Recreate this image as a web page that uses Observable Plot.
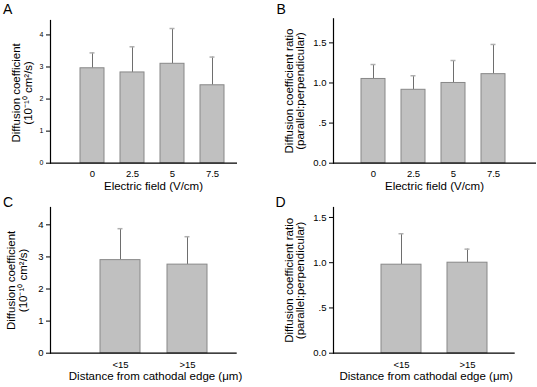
<!DOCTYPE html>
<html>
<head>
<meta charset="utf-8">
<script src="https://cdn.jsdelivr.net/npm/d3@7"></script>
<script src="https://cdn.jsdelivr.net/npm/@observablehq/plot@0.6"></script>
<style>
  html, body { margin: 0; padding: 0; background: #fff; }
  #wrap { position: relative; width: 537px; height: 387px; overflow: hidden; font-family: "Liberation Sans", Arial, sans-serif; }
  #wrap svg { position: absolute; font-family: "Liberation Sans", Arial, sans-serif; }
</style>
</head>
<body>
<div id="wrap"></div>
<script>
// ---- Data ----
const fieldCategories = ["0", "2.5", "5", "7.5"];
const coefByField = [2.96, 2.83, 3.10, 2.43];
const coefByFieldErr = [3.44, 3.63, 4.20, 3.31];
const ratioByField = [1.05, 0.915, 1.00, 1.11];
const ratioByFieldErr = [1.23, 1.09, 1.28, 1.48];

const distanceCategories = ["<15", ">15"];
const coefByDistance = [2.90, 2.76];
const coefByDistanceErr = [3.88, 3.63];
const ratioByDistance = [0.978, 1.00];
const ratioByDistanceErr = [1.32, 1.15];

const coefTicks = [0, 1, 2, 3, 4];
const ratioTicks = [0, 0.5, 1, 1.5];
const ratioTickLabels = ["0.0", ".5", "1.0", "1.5"];

const coefTitle = ["Diffusion coefficient", "(10\u207B\u00B9\u2070 cm\u00B2/s)"];
const ratioTitle = ["Diffusion coefficient ratio", "(parallel:perpendicular)"];
const fieldTitle = "Electric field (V/cm)";
const distanceTitle = "Distance from cathodal edge (\u03BCm)";

const font = "Liberation Sans, Arial, sans-serif";

function panel(o) {
  const data = o.cats.map((c, i) => ({cat: c, v: o.vals[i], e: o.errs[i]}));
  const bw = o.barW;
  const capInset = (bw - 5) / 2;
  const svg = Plot.plot({
    width: o.width,
    height: o.height,
    marginLeft: o.ml,
    marginRight: o.mr,
    marginTop: o.mt,
    marginBottom: o.mb,
    style: {fontFamily: font, background: "transparent", overflow: "visible"},
    x: {type: "band", domain: o.cats, range: o.xRange, paddingInner: o.padIn, paddingOuter: o.padOut, axis: null},
    y: {domain: o.yDomain, axis: null},
    marks: [
      Plot.ruleX(data, {x: "cat", y1: "v", y2: "e", stroke: "#6e6e6e", strokeWidth: 1}),
      Plot.tickY(data, {x: "cat", y: "e", stroke: "#b0b0b0", strokeWidth: 1.5, insetLeft: capInset, insetRight: capInset}),
      Plot.barY(data, {x: "cat", y1: 0, y2: "v", fill: "#c0c0c0", stroke: "#888888", strokeWidth: 1}),
      Plot.axisY({ticks: o.yTicks, tickFormat: o.yFmt, tickSize: 4, tickPadding: 3, fontSize: o.yTickFont, stroke: "#000", color: "#000", label: null}),
      Plot.axisX({tickSize: 0, tickPadding: o.xTickPad, fontSize: 9.5, color: "#000", label: null}),
      Plot.ruleY([0], {stroke: "#000", strokeWidth: 1.2}),
      Plot.frame({anchor: "left", stroke: "#000", strokeWidth: 1.2}),
      Plot.text([o.yTitle[0]], {frameAnchor: "left", dx: o.yt1 - o.ml, dy: o.ytDy, rotate: -90, fontSize: 11.5, fill: "#000", textAnchor: "middle", lineAnchor: "middle"}),
      Plot.text([o.yTitle[1]], {frameAnchor: "left", dx: o.yt2 - o.ml, dy: o.ytDy, rotate: -90, fontSize: 11.5, fill: "#000", textAnchor: "middle", lineAnchor: "middle"}),
      Plot.text([o.xTitle], {frameAnchor: "bottom-left", dx: o.xtX - o.ml, dy: o.xtDy, fontSize: 11.5, fill: "#000", textAnchor: "middle", lineAnchor: "middle"}),
      Plot.text([o.letter], {frameAnchor: "top-left", dx: o.lx - o.ml, dy: o.ly - o.mt, fontSize: 14, fill: "#000", textAnchor: "start", lineAnchor: "middle"})
    ]
  });
  svg.style.left = o.left + "px";
  svg.style.top = o.top + "px";
  document.getElementById("wrap").appendChild(svg);
}

// Panel A
panel({
  left: 0, top: 0, width: 268, height: 192,
  ml: 50, mr: 31, mt: 20, mb: 29.3,
  cats: fieldCategories, vals: coefByField, errs: coefByFieldErr,
  xRange: [72, 232], padIn: 0.4, padOut: 0.2, barW: 24,
  yDomain: [0, 4.45], yTicks: coefTicks, yFmt: d => String(d), yTickFont: 7,
  xTickPad: 7,
  yTitle: coefTitle, yt1: 15.5, yt2: 28, ytDy: 1,
  xTitle: fieldTitle, xtX: 153, xtDy: 23,
  letter: "A", lx: 2.5, ly: 9.5
});

// Panel B
panel({
  left: 268, top: 0, width: 269, height: 192,
  ml: 65, mr: 1, mt: 18.3, mb: 29.3,
  cats: fieldCategories, vals: ratioByField, errs: ratioByFieldErr,
  xRange: [85, 245], padIn: 0.4, padOut: 0.2, barW: 24,
  yDomain: [0, 1.80], yTicks: ratioTicks, yFmt: d => ratioTickLabels[ratioTicks.indexOf(d)], yTickFont: 9.5,
  xTickPad: 7,
  yTitle: ratioTitle, yt1: 21, yt2: 32, ytDy: 0,
  xTitle: fieldTitle, xtX: 166, xtDy: 23,
  letter: "B", lx: 8, ly: 9.5
});

// Panel C
panel({
  left: 0, top: 192, width: 268, height: 195,
  ml: 50, mr: 31.3, mt: 15, mb: 34.3,
  cats: distanceCategories, vals: coefByDistance, errs: coefByDistanceErr,
  xRange: [85.8, 220.2], padIn: 0.406, padOut: 0.2, barW: 40,
  yDomain: [0, 4.54], yTicks: coefTicks, yFmt: d => String(d), yTickFont: 9.5,
  xTickPad: 8,
  yTitle: coefTitle, yt1: 11, yt2: 22.5, ytDy: 0,
  xTitle: distanceTitle, xtX: 155, xtDy: 23.6,
  letter: "C", lx: 2.5, ly: 10.5
});

// Panel D
panel({
  left: 268, top: 192, width: 269, height: 195,
  ml: 65, mr: 22.3, mt: 15, mb: 34.3,
  cats: distanceCategories, vals: ratioByDistance, errs: ratioByDistanceErr,
  xRange: [98.9, 232.7], padIn: 0.4, padOut: 0.2, barW: 40,
  yDomain: [0, 1.61], yTicks: ratioTicks, yFmt: d => ratioTickLabels[ratioTicks.indexOf(d)], yTickFont: 9.5,
  xTickPad: 8,
  yTitle: ratioTitle, yt1: 21, yt2: 32, ytDy: 0,
  xTitle: distanceTitle, xtX: 157.7, xtDy: 23.6,
  letter: "D", lx: 7, ly: 10.5
});
</script>
</body>
</html>
